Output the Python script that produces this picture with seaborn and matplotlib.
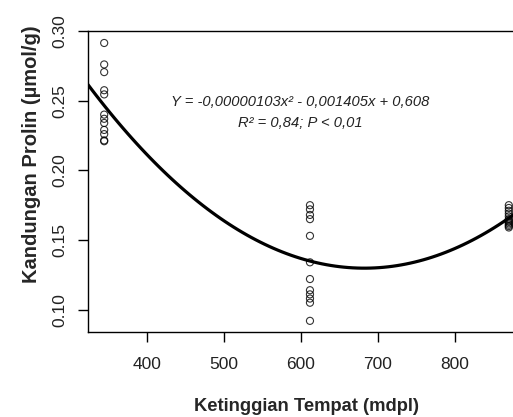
import matplotlib
matplotlib.use("Agg")
import matplotlib.pyplot as plt
import seaborn as sns
import pandas as pd

# ---- data ----
elevation_levels = [345, 612, 870]
proline_345 = [0.2914, 0.2760, 0.2705, 0.2575, 0.2545, 0.2400, 0.2370, 0.2340, 0.2290, 0.2260, 0.2215, 0.2209]
proline_612 = [0.175, 0.172, 0.168, 0.165, 0.153, 0.134, 0.122, 0.114, 0.111, 0.108, 0.105, 0.092]
proline_870 = [0.175, 0.173, 0.171, 0.169, 0.167, 0.165, 0.164, 0.163, 0.162, 0.161, 0.160, 0.159]
x_ticks = [400, 500, 600, 700, 800]
y_ticks = [0.10, 0.15, 0.20, 0.25, 0.30]
equation_text = "Y = -0,00000103x\u00b2 - 0,001405x + 0,608"
stats_text = "R\u00b2 = 0,84; P < 0,01"

groups = [proline_345, proline_612, proline_870]
df = pd.DataFrame({
    "elev": [e for e, g in zip(elevation_levels, groups) for _ in g],
    "prolin": [v for g in groups for v in g],
})

sns.set_theme(style="ticks")
plt.rcParams["font.family"] = ["Liberation Sans", "DejaVu Sans"]

W, H = 513, 417
fig = plt.figure(figsize=(W / 100, H / 100), dpi=100)
left_px, top_px, bottom_px = 88, 31, 332
width_px = 437
ax = fig.add_axes([left_px / W, (H - bottom_px) / H, width_px / W, (bottom_px - top_px) / H])
ax.set_xlim(324, 891)
ax.set_ylim(0.084, 0.300)

sns.regplot(data=df, x="elev", y="prolin", order=2, ci=None, truncate=False,
            scatter_kws=dict(s=26, facecolors="none", edgecolors="black", linewidths=0.8),
            line_kws=dict(color="black", lw=2.3), ax=ax)

ax.set_xlim(324, 891)
ax.set_ylim(0.084, 0.300)
ax.set_xticks(x_ticks)
ax.set_xticklabels([str(t) for t in x_ticks])
ax.set_yticks(y_ticks)
ax.set_yticklabels([f"{t:.2f}" for t in y_ticks], rotation=90, va="center")
ax.tick_params(axis="both", direction="out", length=7, width=1, color="black",
               labelsize=12.5, labelcolor="#222222")
ax.tick_params(axis="x", pad=11)
ax.tick_params(axis="y", pad=7.5)

for s in ax.spines.values():
    s.set_color("black")
    s.set_linewidth(1.0)

ax.set_xlabel("Ketinggian Tempat (mdpl)", fontsize=13.2, fontweight="bold", labelpad=19)
ax.set_ylabel("Kandungan Prolin (\u00b5mol/g)", fontsize=14.5, fontweight="bold")
ax.yaxis.set_label_coords((41 - left_px) / width_px, (bottom_px - 154) / (bottom_px - top_px))

ax.text(599, 0.249, equation_text, ha="center", va="center", fontsize=10.6,
        style="italic", color="#222222")
ax.text(599, 0.2339, stats_text, ha="center", va="center", fontsize=10.6,
        style="italic", color="#222222")

fig.savefig("out.png", dpi=100, facecolor="white")
